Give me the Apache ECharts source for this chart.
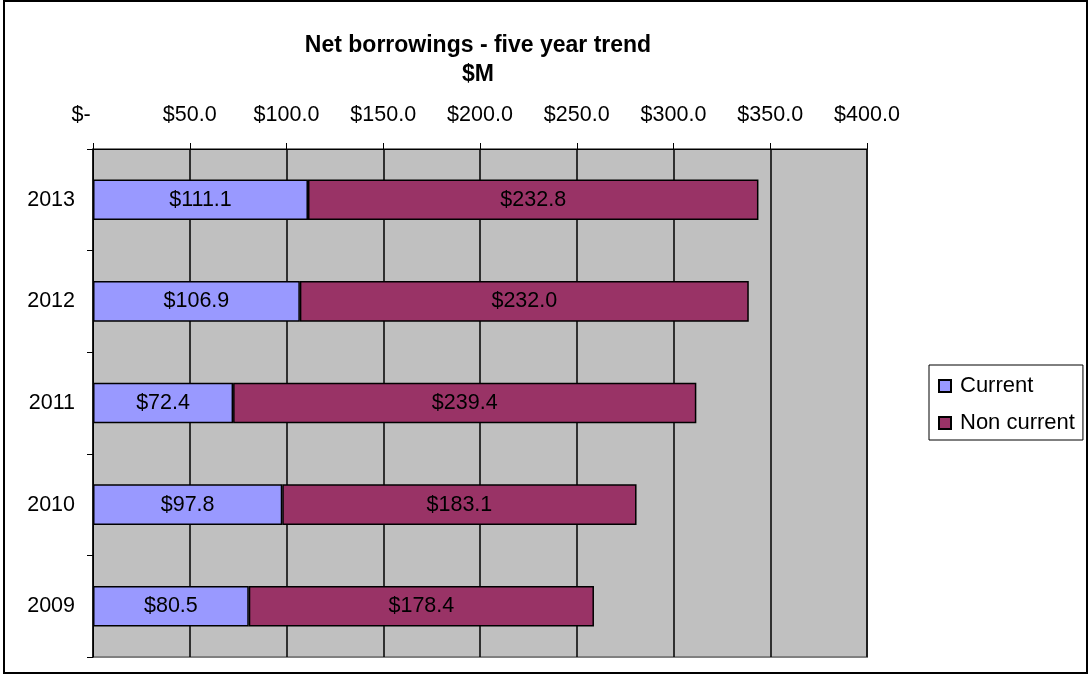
<!DOCTYPE html>
<html>
<head>
<meta charset="utf-8">
<script src="https://cdn.jsdelivr.net/npm/echarts@6/dist/echarts.min.js"></script>
<style>
  html, body { margin: 0; padding: 0; background: #fff; }
  #chart { width: 1091px; height: 675px; }
</style>
</head>
<body>
<div id="chart"></div>
<script>
// Net borrowings by year, $M
const years = ['2009', '2010', '2011', '2012', '2013'];
const currentValues = [80.5, 97.8, 72.4, 106.9, 111.1];
const nonCurrentValues = [178.4, 183.1, 239.4, 232.0, 232.8];
const seriesNames = ['Current', 'Non current'];
const titleLines = ['Net borrowings - five year trend', '$M'];

const FONT = '"Liberation Sans", Arial, sans-serif';
const LABEL_SIZE = 21.5;
// accounting-style money format: zero shows as a dash padded on the right
const money = v => (v === 0 ? '$-    ' : '$' + v.toFixed(1));

const chart = echarts.init(document.getElementById('chart'), null, { renderer: 'canvas' });

chart.setOption({
  animation: false,
  backgroundColor: '#ffffff',
  textStyle: { fontFamily: FONT, color: '#000' },
  title: {
    text: titleLines.join('\n'),
    left: 478,
    top: 31,
    textAlign: 'center',
    padding: 0,
    textStyle: { fontFamily: FONT, fontWeight: 'bold', fontSize: 23, color: '#000', lineHeight: 29 }
  },
  graphic: [{
    type: 'rect',
    shape: { x: 4, y: 1, width: 1083, height: 672 },
    style: { fill: 'none', stroke: '#000', lineWidth: 2 },
    silent: true
  }],
  legend: {
    orient: 'vertical',
    left: 929,
    top: 365,
    padding: [10, 8, 6, 9],
    itemGap: 15,
    itemWidth: 12,
    itemHeight: 12,
    icon: 'rect',
    borderColor: '#000',
    borderWidth: 1,
    backgroundColor: '#fff',
    textStyle: { fontFamily: FONT, fontSize: 22, color: '#000', padding: [0, 0, 0, 4] },
    data: seriesNames
  },
  grid: {
    left: 93, top: 149, right: 224, bottom: 18,
    show: true,
    backgroundColor: '#c0c0c0',
    borderColor: '#808080',
    borderWidth: 2,
    containLabel: false
  },
  xAxis: {
    type: 'value',
    position: 'top',
    min: 0,
    max: 400,
    interval: 50,
    axisLine: { show: true, lineStyle: { color: '#000', width: 1 } },
    axisTick: { show: true, inside: false, length: 6, lineStyle: { color: '#000' } },
    splitLine: { show: true, lineStyle: { color: '#000', width: 1.5 } },
    axisLabel: {
      fontFamily: FONT, fontSize: LABEL_SIZE, color: '#000', margin: 23,
      formatter: money
    }
  },
  yAxis: {
    type: 'category',
    data: years,
    axisLine: { show: true, lineStyle: { color: '#000', width: 1 } },
    axisTick: { show: true, inside: false, length: 6, lineStyle: { color: '#000' } },
    splitLine: { show: false },
    axisLabel: { fontFamily: FONT, fontSize: LABEL_SIZE, color: '#000', margin: 18 }
  },
  series: [
    {
      name: seriesNames[0],
      type: 'bar',
      stack: 'total',
      data: currentValues,
      barCategoryGap: '60%',
      itemStyle: { color: '#9999ff', borderColor: '#000', borderWidth: 1.5 },
      label: {
        show: true, position: 'inside', color: '#000',
        fontFamily: FONT, fontSize: LABEL_SIZE,
        formatter: p => money(p.value)
      }
    },
    {
      name: seriesNames[1],
      type: 'bar',
      stack: 'total',
      data: nonCurrentValues,
      barCategoryGap: '60%',
      itemStyle: { color: '#993366', borderColor: '#000', borderWidth: 1.5 },
      label: {
        show: true, position: 'inside', color: '#000',
        fontFamily: FONT, fontSize: LABEL_SIZE,
        formatter: p => money(p.value)
      }
    }
  ]
});
</script>
</body>
</html>
